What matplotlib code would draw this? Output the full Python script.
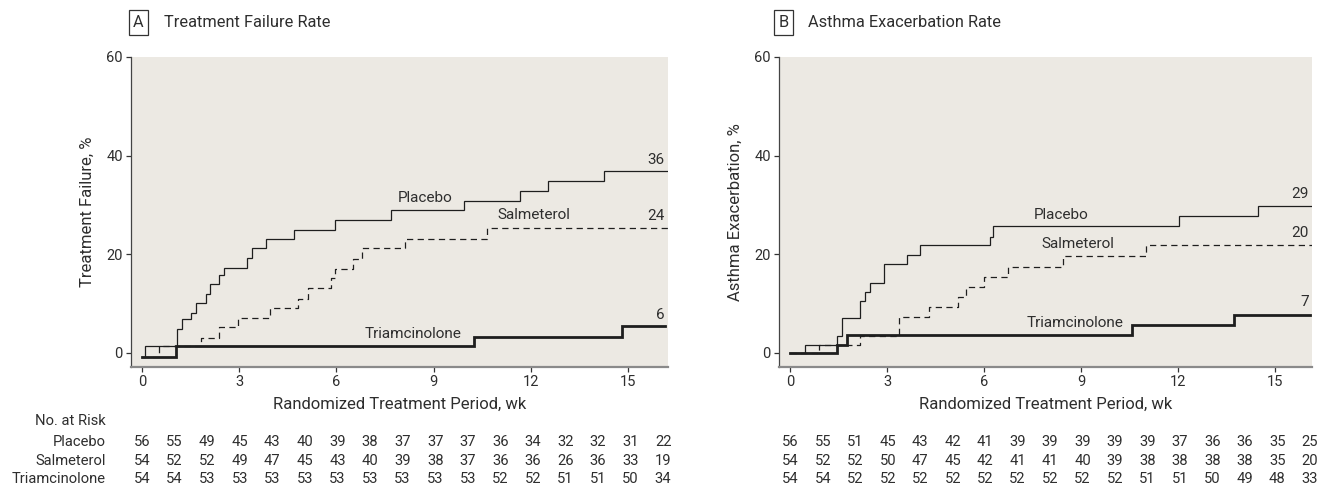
import numpy as np
import matplotlib
matplotlib.use("Agg")
import matplotlib.pyplot as plt
from matplotlib import transforms

# ---------------- data ----------------
groups = ["Placebo", "Salmeterol", "Triamcinolone"]

a_title = "Treatment Failure Rate"
a_ylabel = "Treatment Failure, %"
a_placebo_t = [0, 0.08, 1.09, 1.22, 1.52, 1.66, 1.97, 2.10, 2.38, 2.52, 3.24, 3.38, 3.83, 4.68, 5.95, 7.67, 9.93, 11.66, 12.52, 14.25, 16.23]
a_placebo_y = [-0.8, 1.4, 4.8, 6.8, 8.2, 10.2, 12.0, 13.9, 15.8, 17.3, 19.3, 21.2, 23.1, 24.9, 26.9, 28.9, 30.8, 32.8, 34.8, 36.9, 36.9]
a_salm_t = [0, 0.51, 1.81, 2.36, 2.95, 3.94, 4.82, 5.12, 5.83, 5.96, 6.51, 6.80, 8.11, 10.66, 16.23]
a_salm_y = [-0.8, 1.4, 3.1, 5.2, 7.1, 9.2, 11.0, 13.1, 15.1, 17.1, 19.0, 21.2, 23.2, 25.4, 25.4]
a_triam_t = [0, 1.06, 10.23, 14.82, 16.15]
a_triam_y = [-0.8, 1.4, 3.3, 5.5, 5.5]
a_end_labels = ["36", "24", "6"]
a_risk_placebo = [56, 55, 49, 45, 43, 40, 39, 38, 37, 37, 37, 36, 34, 32, 32, 31, 22]
a_risk_salm = [54, 52, 52, 49, 47, 45, 43, 40, 39, 38, 37, 36, 36, 26, 36, 33, 19]
a_risk_triam = [54, 54, 53, 53, 53, 53, 53, 53, 53, 53, 53, 52, 52, 51, 51, 50, 34]

b_title = "Asthma Exacerbation Rate"
b_ylabel = "Asthma Exacerbation, %"
b_placebo_t = [0, 0.46, 1.45, 1.60, 2.17, 2.31, 2.46, 2.89, 3.60, 4.03, 6.18, 6.29, 12.02, 14.47, 16.15]
b_placebo_y = [0, 1.7, 3.4, 7.0, 10.6, 12.3, 14.1, 18.0, 19.9, 21.8, 23.6, 25.8, 27.7, 29.8, 29.8]
b_salm_t = [0, 0.89, 2.17, 3.38, 4.30, 5.19, 5.45, 6.01, 6.73, 8.43, 11.0, 16.15]
b_salm_y = [0, 1.7, 3.4, 7.3, 9.4, 11.4, 13.4, 15.5, 17.4, 19.7, 21.9, 21.9]
b_triam_t = [0, 1.45, 1.76, 10.59, 13.75, 16.1]
b_triam_y = [0, 1.7, 3.6, 5.6, 7.8, 7.8]
b_end_labels = ["29", "20", "7"]
b_risk_placebo = [56, 55, 51, 45, 43, 42, 41, 39, 39, 39, 39, 39, 37, 36, 36, 35, 25]
b_risk_salm = [54, 52, 52, 50, 47, 45, 42, 41, 41, 40, 39, 38, 38, 38, 38, 35, 20]
b_risk_triam = [54, 54, 52, 52, 52, 52, 52, 52, 52, 52, 52, 51, 51, 50, 49, 48, 33]

x_ticks = [0, 3, 6, 9, 12, 15]
y_ticks = [0, 20, 40, 60]
x_label = "Randomized Treatment Period, wk"

# ---------------- style ----------------
FAM = ["Roboto", "DejaVu Sans"]
plt.rcParams["font.family"] = FAM
WT = "normal"
TXT = "#2e2e2e"
BG = "#ECE9E3"
LINE = "#1e1e1e"

W, H = 1321, 504
fig = plt.figure(figsize=(W / 100, H / 100), dpi=100)


def px_rect(l, r, t, b):
    return [l / W, 1 - b / H, (r - l) / W, (b - t) / H]


panels = [
    dict(rect=px_rect(131, 668, 57, 367), xlim=(-0.34, 16.23), title=a_title, letter="A",
         box_x=138.5, title_x=164, ylabel=a_ylabel,
         series=[(a_placebo_t, a_placebo_y), (a_salm_t, a_salm_y), (a_triam_t, a_triam_y)],
         names=[(8.74, 31.4), (12.08, 27.9), (8.37, 3.9)],
         ends=a_end_labels, end_y=[39.2, 27.8, 7.7], end_x=16.13,
         risk=[a_risk_placebo, a_risk_salm, a_risk_triam], risk_labels=True),
    dict(rect=px_rect(779, 1312, 57, 367), xlim=(-0.35, 16.15), title=b_title, letter="B",
         box_x=783.5, title_x=808, ylabel=b_ylabel,
         series=[(b_placebo_t, b_placebo_y), (b_salm_t, b_salm_y), (b_triam_t, b_triam_y)],
         names=[(8.38, 27.9), (8.9, 22.1), (8.81, 6.1)],
         ends=b_end_labels, end_y=[32.2, 24.3, 10.4], end_x=16.05,
         risk=[b_risk_placebo, b_risk_salm, b_risk_triam], risk_labels=False),
]

styles = [
    dict(lw=0.9, ls="-"),
    dict(lw=0.9, ls=(0, (5, 3.5))),
    dict(lw=2.0, ls="-"),
]

FS_TICK = 10.5
FS_NAME = 11.0
FS_AXLAB = 12.0
FS_TITLE = 11.8
FS_RISK = 10.6

row_y = [442, 461, 479]

for p in panels:
    ax = fig.add_axes(p["rect"])
    ax.set_facecolor(BG)
    ax.set_xlim(*p["xlim"])
    ax.set_ylim(-2.84, 60)
    for s in ["top", "right"]:
        ax.spines[s].set_visible(False)
    ax.spines["left"].set_color("#444444")
    ax.spines["left"].set_linewidth(0.9)
    ax.spines["bottom"].set_color("#8a8a8a")
    ax.spines["bottom"].set_linewidth(1.6)
    ax.set_xticks(x_ticks)
    ax.set_yticks(y_ticks)
    ax.tick_params(axis="both", colors="#333333", labelcolor=TXT, labelsize=FS_TICK,
                   length=3.5, width=0.9, pad=2.5)

    order = [2, 1, 0]
    for i in order:
        t, y = p["series"][i]
        ax.step(t, y, where="post", color=LINE, solid_joinstyle="miter", **styles[i])

    for (nx, ny), name in zip(p["names"], groups):
        ax.text(nx, ny, name, ha="center", va="center", fontsize=FS_NAME, color=TXT,
                fontweight=WT)
    for lab, ey in zip(p["ends"], p["end_y"]):
        ax.text(p["end_x"], ey, lab, ha="right", va="center", fontsize=FS_NAME, color=TXT,
                fontweight=WT)

    ax.set_xlabel(x_label, fontsize=FS_AXLAB, color=TXT, fontweight=WT)
    ax.xaxis.set_label_coords(0.5, -0.095)
    ax.set_ylabel(p["ylabel"], fontsize=FS_AXLAB, color=TXT, fontweight=WT)
    ax.yaxis.set_label_coords(-0.068, 0.5)

    # panel header
    fig.text(p["box_x"] / W, 1 - 22.5 / H, p["letter"], ha="center", va="center",
             fontsize=FS_TITLE, color=TXT, fontweight=WT,
             bbox=dict(boxstyle="square,pad=0.28", fc="white", ec="#333333", lw=0.9))
    fig.text(p["title_x"] / W, 1 - 22.5 / H, p["title"], ha="left", va="center",
             fontsize=FS_TITLE, color=TXT, fontweight=WT)

    # risk table
    tr = transforms.blended_transform_factory(ax.transData, fig.transFigure)
    cols = np.arange(len(p["risk"][0])) * 1.005
    for r, ry in zip(p["risk"], row_y):
        for cx, val in zip(cols, r):
            ax.text(cx, 1 - ry / H, str(val), transform=tr, ha="center", va="center",
                    fontsize=FS_RISK, color=TXT, fontweight=WT, clip_on=False)
    if p["risk_labels"]:
        fig.text(106 / W, 1 - 421 / H, "No. at Risk", ha="right", va="center",
                 fontsize=FS_RISK, color=TXT, fontweight=WT)
        for name, ry in zip(groups, row_y):
            fig.text(106 / W, 1 - ry / H, name, ha="right", va="center",
                     fontsize=FS_RISK, color=TXT, fontweight=WT)

fig.savefig("out.png", dpi=100, facecolor="white")
